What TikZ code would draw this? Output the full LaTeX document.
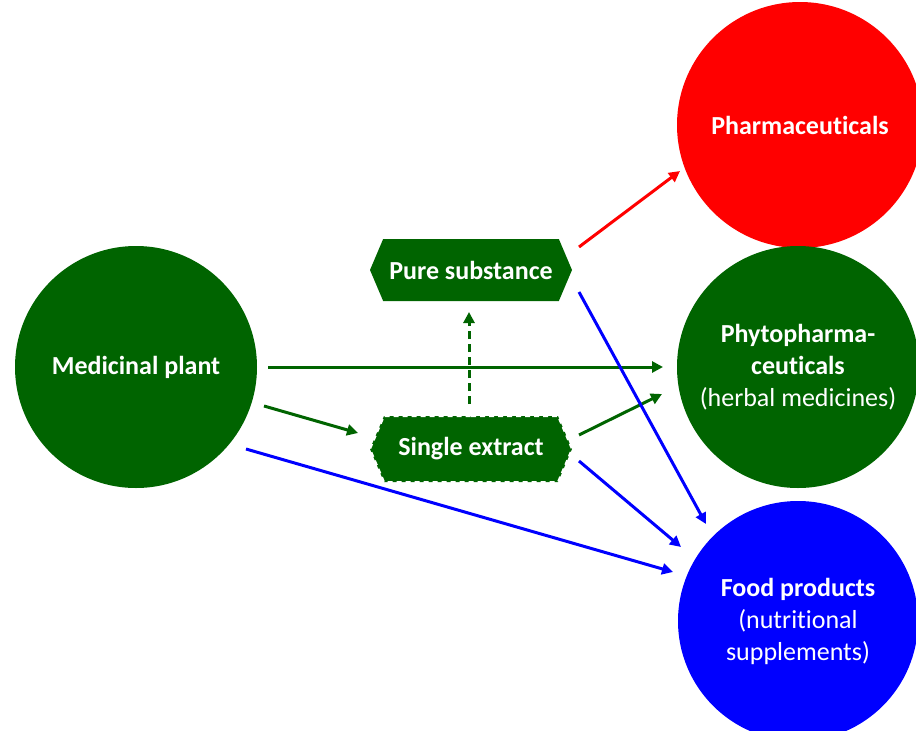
\documentclass[tikz,border=0pt]{standalone}
\usepackage{fontspec}
\setmainfont[Ligatures={NoCommon}]{Carlito}
\usetikzlibrary{shapes.symbols,arrows.meta}
\definecolor{dgreen}{RGB}{0,100,0}
\definecolor{pred}{RGB}{255,0,0}
\definecolor{pblue}{RGB}{0,0,255}
\tikzset{
  blob/.style={circle,inner sep=0pt,text=white,align=center,font=\fontsize{26}{32}\selectfont},
  hexbox/.style={signal,signal to=west and east,signal pointer angle=134,fill=dgreen,text=white,
    minimum width=202pt,minimum height=62pt,inner sep=0pt,font=\bfseries\fontsize{26}{30}\selectfont},
  conn/.style={line width=3pt,-{Triangle[length=11pt,width=11pt]}},
}
\begin{document}
\begin{tikzpicture}[x=1pt,y=-1pt]
\useasboundingbox (0,0) rectangle (916,731);
\node[blob,fill=dgreen,minimum size=242pt] (mp) at (136,367) {\textbf{Medicinal plant}};
\node[blob,fill=pred,minimum size=246pt] (ph) at (800,125) {\textbf{Pharmaceuticals}};
\node[blob,fill=dgreen,minimum size=242pt] (phy) at (798,367) {\textbf{Phytopharma-}\\\textbf{ceuticals}\\(herbal medicines)};
\node[blob,fill=pblue,minimum size=240pt] (fp) at (798,621) {\textbf{Food products}\\(nutritional\\supplements)};
\node[hexbox] (ps) at (471,270) {Pure substance};
\node[hexbox,minimum height=66pt,draw=white,line width=2pt,dash pattern=on 5pt off 4pt] (se) at (471,449) {Single extract};
\coordinate (a1s) at (268,367); \coordinate (a1e) at (663,367);
\draw[conn,dgreen] (a1s) -- (a1e);
\coordinate (a2s) at (264,406); \coordinate (a2e) at (358,433);
\draw[conn,dgreen] (a2s) -- (a2e);
\coordinate (a3s) at (246,449); \coordinate (a3e) at (673,572);
\draw[conn,pblue] (a3s) -- (a3e);
\coordinate (a4s) at (469,404); \coordinate (a4e) at (469,312);
\draw[conn,dgreen,dash pattern=on 8pt off 5pt] (a4s) -- (a4e);
\coordinate (a5s) at (579,435); \coordinate (a5e) at (662,394);
\draw[conn,dgreen] (a5s) -- (a5e);
\coordinate (a6s) at (579,461); \coordinate (a6e) at (681,547);
\draw[conn,pblue] (a6s) -- (a6e);
\coordinate (a7s) at (579,247); \coordinate (a7e) at (680,171);
\draw[conn,pred] (a7s) -- (a7e);
\coordinate (a8s) at (579,292); \coordinate (a8e) at (706,524);
\draw[conn,pblue] (a8s) -- (a8e);
\end{tikzpicture}
\end{document}
